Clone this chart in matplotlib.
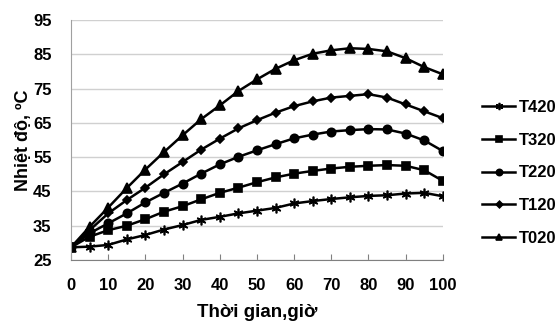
import matplotlib.pyplot as plt

plt.rcParams['font.family'] = ['Liberation Sans', 'DejaVu Sans']
plt.rcParams['font.weight'] = 'bold'

# thoi gian (gio)
t = [0, 5, 10, 15, 20, 25, 30, 35, 40, 45, 50, 55, 60, 65, 70, 75, 80, 85, 90, 95, 100]

T420 = [28.7, 28.9, 29.4, 31.0, 32.3, 33.9, 35.2, 36.7, 37.6, 38.6, 39.4, 40.2,
        41.5, 42.2, 42.8, 43.3, 43.7, 43.9, 44.4, 44.6, 43.6]
T320 = [28.7, 31.8, 33.7, 35.0, 36.9, 39.1, 40.7, 42.7, 44.6, 46.1, 47.7, 49.1,
        50.2, 51.0, 51.7, 52.2, 52.5, 52.7, 52.5, 51.2, 48.1]
T220 = [28.7, 32.8, 35.7, 38.6, 41.8, 44.6, 47.3, 50.2, 52.9, 55.1, 57.0, 58.8,
        60.5, 61.6, 62.5, 62.9, 63.2, 63.1, 61.9, 59.9, 56.8]
T120 = [28.7, 33.7, 38.6, 42.5, 46.1, 50.0, 53.6, 57.2, 60.4, 63.4, 65.8, 68.0,
        69.9, 71.3, 72.4, 72.9, 73.4, 72.4, 70.4, 68.4, 66.4]
T020 = [28.7, 34.7, 40.3, 46.0, 51.4, 56.5, 61.4, 66.1, 70.1, 74.3, 77.7, 80.8,
        83.3, 85.2, 86.2, 86.8, 86.6, 85.9, 83.9, 81.3, 79.2]

series = [("T420", T420, (6, 2, 0), 7),
          ("T320", T320, "s", 6),
          ("T220", T220, "o", 6),
          ("T120", T120, "D", 4.5),
          ("T020", T020, "^", 6.5)]

fig = plt.figure(figsize=(5.57, 3.25), dpi=100)
ax = fig.add_axes([0.1275, 0.2, 0.6675, 0.738])

for name, vals, mk, ms in series:
    ax.plot(t, vals, color="black", lw=1.8, marker=mk, ms=ms,
            markeredgecolor="black", markerfacecolor="black", mew=1.2, label=name)

ax.set_xlim(0, 100)
ax.set_ylim(25, 95)
ax.set_xticks(range(0, 101, 10))
ax.set_yticks(range(25, 96, 10))
ax.yaxis.grid(True, color="#d0d0d0", lw=1)
ax.set_axisbelow(True)
for s in ["top", "right"]:
    ax.spines[s].set_visible(False)
ax.spines["left"].set_color("#a0a0a0")
ax.spines["bottom"].set_color("#808080")
ax.tick_params(axis="y", length=0, pad=14, labelsize=12)
ax.tick_params(axis="x", length=4, color="#808080", direction="in", pad=13, labelsize=12)

ax.set_xlabel("Thời gian,giờ", fontsize=13.5, fontweight="bold", labelpad=8)
ax.set_ylabel("Nhiệt độ, ºC", fontsize=13, fontweight="bold", labelpad=1)

# chu thich ben phai
ax.legend(loc="center left", bbox_to_anchor=(482 / 557, 1 - 173 / 325),
          bbox_transform=fig.transFigure, frameon=False, borderpad=0, borderaxespad=0,
          fontsize=12, handlelength=2.0, labelspacing=1.07, markerscale=0.75,
          handletextpad=0.2)

fig.savefig("out.png", dpi=100)
